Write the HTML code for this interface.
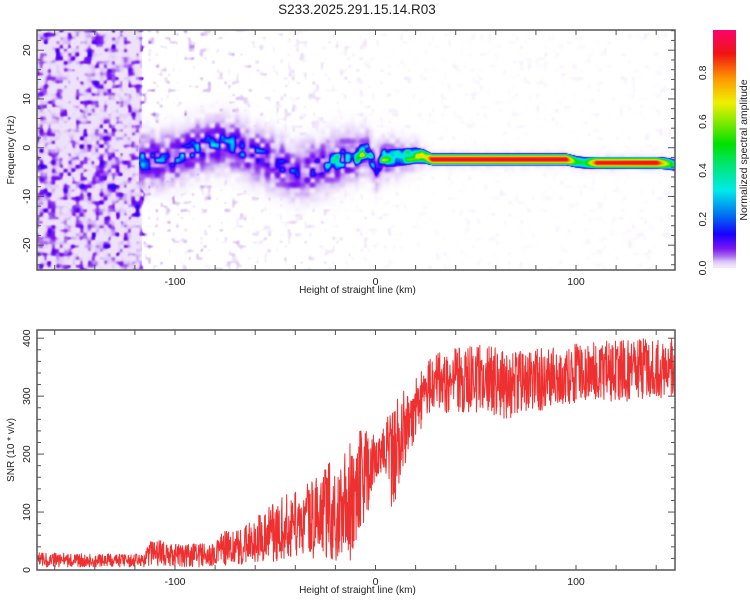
<!DOCTYPE html>
<html><head><meta charset="utf-8"><style>
html,body{margin:0;padding:0;background:#fff;}
#wrap{position:relative;width:750px;height:600px;overflow:hidden;font-family:"Liberation Sans",sans-serif;}
canvas,svg{position:absolute;left:0;top:0;}
</style></head><body>
<div id="wrap">
<canvas id="spec" width="638" height="240" style="left:37px;top:30px;"></canvas>
<canvas id="cbar" width="23" height="238" style="left:713px;top:30px;"></canvas>
<svg id="svg" width="750" height="600"></svg>
</div>
<script>
// ---------- data ----------
const ridgeKm   = [-118,-112,-100,-90,-80,-70,-60,-50,-40,-30,-20,-12,-8,-4,0,4,10,20,24,28,95,100,104,110,140,146,149.5];
const ridgeFreq = [-2.5,-2.5,-2,0,1,0.5,-1.5,-3,-5,-4,-2.5,-2,-1.2,-1,-4,-2,-2,-1.5,-1.7,-2.3,-2.3,-2.8,-3,-3,-3,-3.2,-3.5];
const ridgeAmp  = [0.3,0.3,0.3,0.28,0.3,0.3,0.28,0.28,0.22,0.3,0.4,0.5,0.7,0.6,0.4,0.6,0.55,0.7,0.75,0.92,0.92,0.5,0.45,0.9,0.92,0.6,0.35];
const ridgeBlobby = [1,1,1,1,1,1,1,1,1,1,1,1,0.8,0.8,0.8,0.7,0.6,0.4,0.2,0,0,0,0,0,0,0,0];
const noiseKm    = [-169,-118,-115,-80,-60,-20,20,150];
const noiseLevel = [0.085,0.085,0.015,0.012,0.008,0.005,0.002,0.002];
const snrKm = [-169,-140,-115,-112,-100,-80,-76,-70,-60,-50,-40,-30,-22,-15,-10,-6,-2,0,4,8,12,16,20,24,28,35,45,55,65,75,90,110,130,149.5];
const snrLo = [5,5,5,8,5,5,8,8,10,15,20,20,15,15,10,60,130,160,170,100,140,190,230,250,280,270,270,270,260,270,280,290,290,300];
const snrHi = [30,28,28,55,45,45,70,70,90,120,140,160,190,210,230,260,240,230,250,280,300,320,330,350,370,380,385,390,380,380,385,395,400,400];
const xTicks = [-100,0,100];
const freqTicks = [-20,-10,0,10,20];
const snrTicks = [0,100,200,300,400];
const cbTicks = ["0.0","0.2","0.4","0.6","0.8"];

// ---------- axes ----------
const X = km => 375.5 + km*2.005;
const YF = f => 147.7 - f*4.875;
const YS = v => 570 - v*0.5795;
const YC = v => 268 - v*244;

function interp(xs, ys, x){
  if(x<=xs[0]) return ys[0];
  for(let i=1;i<xs.length;i++){ if(x<=xs[i]){ const t=(x-xs[i-1])/(xs[i]-xs[i-1]); return ys[i-1]+t*(ys[i]-ys[i-1]); } }
  return ys[ys.length-1];
}
const stops=[[0,[255,255,255]],[0.01,[242,232,252]],[0.03,[216,190,246]],[0.05,[170,110,238]],[0.08,[125,25,242]],[0.14,[25,0,255]],[0.22,[0,115,240]],[0.32,[0,235,235]],[0.42,[0,230,120]],[0.51,[0,225,0]],[0.62,[160,235,0]],[0.68,[240,240,0]],[0.78,[255,150,0]],[0.88,[240,20,20]],[1.0,[255,0,130]]];
function cmap(v){
  v=Math.max(0,Math.min(1,v));
  for(let i=1;i<stops.length;i++){ if(v<=stops[i][0]){ const a=stops[i-1],b=stops[i],t=(v-a[0])/(b[0]-a[0]); return [0,1,2].map(k=>a[1][k]+t*(b[1][k]-a[1][k])); } }
  return stops[stops.length-1][1];
}
function h(i,j){ let n=(i*374761393+j*668265263)|0; n=(n^(n>>>13))*1274126177|0; return ((n^(n>>>16))>>>0)/4294967295; }
function vnoise(x,y,c){ const gx=x/c, gy=y/c, i=Math.floor(gx), j=Math.floor(gy), fx=gx-i, fy=gy-j;
  const sx=fx*fx*(3-2*fx), sy=fy*fy*(3-2*fy);
  const a=h(i,j),b=h(i+1,j),cc=h(i,j+1),d=h(i+1,j+1);
  return a+(b-a)*sx+(cc-a)*sy+(a-b-cc+d)*sx*sy; }

// ---------- spectrogram ----------
(function(){
  const cv=document.getElementById('spec'), ctx=cv.getContext('2d');
  const W=cv.width,H=cv.height, img=ctx.createImageData(W,H);
  for(let px=0;px<W;px++){
    const x=px+37, km=(x-375.5)/2.005;
    const fc=interp(ridgeKm,ridgeFreq,km), amp=interp(ridgeKm,ridgeAmp,km), bl=interp(ridgeKm,ridgeBlobby,km);
    const nl=interp(noiseKm,noiseLevel,km);
    const inRidge = km>=-118;
    for(let py=0;py<H;py++){
      const y=py+30, f=(147.7-y)/4.875;
      let v=0;
      const n1=vnoise(px,py,4), n2=vnoise(px+50,py+90,6);
      const n=n1*0.6+n2*0.4;
      if(nl>0.05){
        const sp=Math.max(0,n-0.3)/0.7;
        v = nl*(0.15+sp*sp*1.9);
      } else {
        const sp=Math.max(0,n-0.65)/0.35;
        v = nl*sp*4;
      }
      if(inRidge){
        const d=Math.abs(f-fc);
        const w = 1.3 + bl*1.2;
        const tex = vnoise(px+200,py+300,5);
        if(d<w){
          let core=amp*(1-(d/w)*(d/w));
          core *= (1-bl) + bl*Math.max(0,tex*1.6-0.35);
          v=Math.max(v,core);
        }
        const s = 1.5 + bl*2.8;
        const halo = (0.02+bl*0.08)*Math.exp(-(d/s)*(d/s))*(0.2+tex*1.3);
        v=Math.max(v,halo);
      }
      const c=cmap(v), o=(py*W+px)*4;
      img.data[o]=c[0];img.data[o+1]=c[1];img.data[o+2]=c[2];img.data[o+3]=255;
    }
  }
  ctx.putImageData(img,0,0);
  const cb=document.getElementById('cbar'), cx=cb.getContext('2d');
  for(let py=0;py<cb.height;py++){ const v=(268-(py+30))/244; const c=cmap(v<0.015?0.012:v); cx.fillStyle=`rgb(${c.map(Math.round).join(',')})`; cx.fillRect(0,py,23,1); }
})();

// ---------- svg overlay ----------
const NS='http://www.w3.org/2000/svg', svg=document.getElementById('svg');
function mk(tag,attrs,parent){ const e=document.createElementNS(NS,tag); for(const k in attrs) e.setAttribute(k,attrs[k]); (parent||svg).appendChild(e); return e; }
function txt(s,x,y,size,rot,anchor){ const t=mk('text',{x:x,y:y,'font-size':size,'fill':'#222','text-anchor':anchor||'middle','font-family':'Liberation Sans, sans-serif'}); if(rot) t.setAttribute('transform',`rotate(-90 ${x} ${y})`); t.textContent=s; return t; }

// SNR jagged line within envelope
let pts=[];
for(let x=37.5;x<=675;x+=0.34){
  const km=(x-375.5)/2.005;
  const lo=interp(snrKm,snrLo,km), hi=interp(snrKm,snrHi,km);
  const r=h(Math.round(x*3),7);
  const v=lo+(hi-lo)*r;
  pts.push(x.toFixed(2)+','+YS(Math.max(0,v)).toFixed(1));
}
const line=mk('polyline',{points:pts.join(' '),fill:'none',stroke:'#ef3030','stroke-width':1,'stroke-linejoin':'round'});



// frames + ticks
function frame(y0,y1,yTicksMinor,yTicksMajor,yFn,name){
  const g=mk('g',{});  
  mk('rect',{x:37,y:y0,width:638,height:y1-y0,fill:'none',stroke:'#555','stroke-width':1.5},g);
  for(let k=-160;k<=140;k+=20){ const x=X(k); mk('line',{x1:x,y1:y0,x2:x,y2:y0+5,stroke:'#555'},g); mk('line',{x1:x,y1:y1,x2:x,y2:y1-5,stroke:'#555'},g); }
  yTicksMinor.forEach(v=>{ const y=yFn(v); if(y<y0||y>y1) return; const L=yTicksMajor.includes(v)?7:4; mk('line',{x1:37,y1:y,x2:37+L,y2:y,stroke:'#555'},g); mk('line',{x1:675,y1:y,x2:675-L,y2:y,stroke:'#555'},g); });
  xTicks.forEach(k=>{ const t=txt(String(k),X(k),y1+15,10.5);   });
  const xl=txt('Height of straight line (km)',X(-10)+2,y1+23,10);  
}
const fMinor=[]; for(let f=-24;f<=24;f+=2) fMinor.push(f);
frame(30,270,fMinor,freqTicks,YF,'spectrogram-axes');
const sMinor=[]; for(let v=0;v<=420;v+=20) sMinor.push(v);
frame(330,570,sMinor,snrTicks,YS,'snr-axes');
freqTicks.forEach(f=>{ const t=txt(String(f),30,YF(f),10.5,true);   });
snrTicks.forEach(v=>{ const t=txt(String(v),30,YS(v),10.5,true);   });
const yt1=txt('Frequency (Hz)',14,150,10,true);  
const yt2=txt('SNR (10 * v/v)',14,450,10,true);  
cbTicks.forEach(s=>{ const t=txt(s,706,YC(parseFloat(s)),10.5,true);   });
const ct=txt('Normalized spectral amplitude',747,150,10.5,true);  
const title=txt('S233.2025.291.15.14.R03',357,14,13.5);  
</script>
</body></html>
